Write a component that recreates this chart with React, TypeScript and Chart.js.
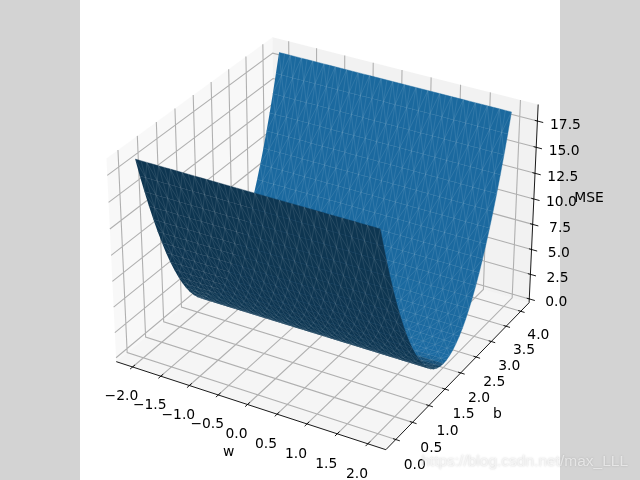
import React, { useEffect, useRef } from "react";
import { Chart, registerables } from "chart.js";

Chart.register(...registerables);

const wValues = [-2, -1.9, -1.8, -1.7, -1.6, -1.5, -1.4, -1.3, -1.2, -1.1, -1, -0.9, -0.8, -0.7, -0.6, -0.5, -0.4, -0.3, -0.2, -0.1, 0, 0.1, 0.2, 0.3, 0.4, 0.5, 0.6, 0.7, 0.8, 0.9, 1, 1.1, 1.2, 1.3, 1.4, 1.5, 1.6, 1.7, 1.8, 1.9, 2];
const bValues = [0, 0.1, 0.2, 0.3, 0.4, 0.5, 0.6, 0.7, 0.8, 0.9, 1, 1.1, 1.2, 1.3, 1.4, 1.5, 1.6, 1.7, 1.8, 1.9, 2, 2.1, 2.2, 2.3, 2.4, 2.5, 2.6, 2.7, 2.8, 2.9, 3, 3.1, 3.2, 3.3, 3.4, 3.5, 3.6, 3.7, 3.8, 3.9, 4];
const mseValues = [18.67, 16.85, 15.12, 13.49, 11.95, 10.5, 9.15, 7.89, 6.72, 5.65, 4.67, 3.78, 2.99, 2.29, 1.68, 1.17, 0.75, 0.42, 0.19, 0.05, 0, 0.05, 0.19, 0.42, 0.75, 1.17, 1.68, 2.29, 2.99, 3.78, 4.67, 5.65, 6.72, 7.89, 9.15, 10.5, 11.95, 13.49, 15.12, 16.85, 18.67];

const wTicks = [-2, -1.5, -1, -0.5, 0, 0.5, 1, 1.5, 2];
const wTickLabels = ["\u22122.0", "\u22121.5", "\u22121.0", "\u22120.5", "0.0", "0.5", "1.0", "1.5", "2.0"];
const bTicks = [0, 0.5, 1, 1.5, 2, 2.5, 3, 3.5, 4];
const bTickLabels = ["0.0", "0.5", "1.0", "1.5", "2.0", "2.5", "3.0", "3.5", "4.0"];
const zTicks = [0, 2.5, 5, 7.5, 10, 12.5, 15, 17.5];
const zTickLabels = ["0.0", "2.5", "5.0", "7.5", "10.0", "12.5", "15.0", "17.5"];

const xLim = [-2.2, 2.2];
const yLim = [-0.2, 4.2];
const zLim = [0, 18.67];
const boxAspect = [1.1428, 1.1428, 0.8571];

// matplotlib-style view: elevation 30, azimuth -60, distance 10
const elev = (30 * Math.PI) / 180;
const azim = (-60 * Math.PI) / 180;
const dist = 10;
const n = [Math.cos(azim) * Math.cos(elev), Math.sin(azim) * Math.cos(elev), Math.sin(elev)];
const uLen = Math.hypot(n[1], n[0]);
const u = [-n[1] / uLen, n[0] / uLen, 0];
const v = [n[1] * u[2] - n[2] * u[1], n[2] * u[0] - n[0] * u[2], n[0] * u[1] - n[1] * u[0]];

function proj(w: number, b: number, z: number) {
  const p = [
    ((w - xLim[0]) / (xLim[1] - xLim[0]) - 0.5) * boxAspect[0],
    ((b - yLim[0]) / (yLim[1] - yLim[0]) - 0.5) * boxAspect[1],
    ((z - zLim[0]) / (zLim[1] - zLim[0]) - 0.5) * boxAspect[2],
  ];
  const dot = (a: number[], c: number[]) => a[0] * c[0] + a[1] * c[1] + a[2] * c[2];
  const depth = dist - dot(n, p);
  return { x: dot(u, p) / depth, y: dot(v, p) / depth };
}

const dx = (xLim[1] - xLim[0]) / 12;
const dy = (yLim[1] - yLim[0]) / 12;
const dz = (zLim[1] - zLim[0]) / 12;
const xLo = xLim[0] - dx / 4, xHi = xLim[1] + dx / 4;
const yLo = yLim[0] - dy / 4, yHi = yLim[1] + dy / 4;
const zLo = zLim[0] - dz / 4, zHi = zLim[1] + dz / 4;

const GAP = { x: NaN, y: NaN };
const lineSet = (data: any[], color: string, width: number) => ({
  data, borderColor: color, borderWidth: width, showLine: true, pointRadius: 0, fill: false, spanGaps: false,
});
const polySet = (data: any[], color: string, edge = "transparent", edgeWidth = 0) => ({
  data, backgroundColor: color, borderWidth: edgeWidth, borderColor: edge, showLine: true, pointRadius: 0, fill: "shape",
});

function buildDatasets() {
  const out: any[] = [];
  // panes
  out.push(polySet([proj(xLo, yLo, zLo), proj(xLo, yHi, zLo), proj(xLo, yHi, zHi), proj(xLo, yLo, zHi)], "rgba(242,242,242,0.5)"));
  out.push(polySet([proj(xLo, yHi, zLo), proj(xHi, yHi, zLo), proj(xHi, yHi, zHi), proj(xLo, yHi, zHi)], "rgba(230,230,230,0.5)"));
  out.push(polySet([proj(xLo, yLo, zLo), proj(xHi, yLo, zLo), proj(xHi, yHi, zLo), proj(xLo, yHi, zLo)], "rgba(236,236,236,0.5)"));
  // grid
  const grid: any[] = [];
  wTicks.forEach((t) => grid.push(proj(t, yLo, zLo), proj(t, yHi, zLo), proj(t, yHi, zHi), GAP));
  bTicks.forEach((t) => grid.push(proj(xHi, t, zLo), proj(xLo, t, zLo), proj(xLo, t, zHi), GAP));
  zTicks.forEach((t) => grid.push(proj(xLo, yLo, t), proj(xLo, yHi, t), proj(xHi, yHi, t), GAP));
  out.push(lineSet(grid, "#b0b0b0", 1.1));
  // axes + ticks
  const axes: any[] = [
    proj(xLo, yLo, zLo), proj(xHi, yLo, zLo), GAP,
    proj(xHi, yLo, zLo), proj(xHi, yHi, zLo), GAP,
    proj(xHi, yHi, zLo), proj(xHi, yHi, zHi), GAP,
  ];
  wTicks.forEach((t) => axes.push(proj(t, yLo + 0.18 * dy, zLo), proj(t, yLo - 0.18 * dy, zLo), GAP));
  bTicks.forEach((t) => axes.push(proj(xHi - 0.12 * dx, t, zLo), proj(xHi + 0.18 * dx, t, zLo), GAP));
  zTicks.forEach((t) => axes.push(proj(xHi - 0.12 * dx, yHi, t), proj(xHi + 0.26 * dx, yHi, t), GAP));
  out.push(lineSet(axes, "#000000", 0.9));

  // surface: far bands first
  const slopes = bValues.slice(1).map((b, i) => (mseValues[i + 1] - mseValues[i]) / (b - bValues[i]));
  const shades = slopes.map((s) => {
    const len = Math.hypot(s, 1);
    return (s + 0.5) / len / 1.5;
  });
  const sMin = Math.min(...shades), sMax = Math.max(...shades);
  for (let i = bValues.length - 2; i >= 0; i--) {
    const f = 0.45 + (0.45 * (shades[i] - sMin)) / (sMax - sMin);
    const col = `rgb(${Math.round(31 * f)},${Math.round(119 * f)},${Math.round(180 * f)})`;
    const b0 = bValues[i], b1 = bValues[i + 1], z0 = mseValues[i], z1 = mseValues[i + 1];
    const poly: any[] = [];
    wValues.forEach((w) => poly.push(proj(w, b0, z0)));
    [...wValues].reverse().forEach((w) => poly.push(proj(w, b1, z1)));
    out.push(polySet(poly, col, col, 0.4));
    const seams: any[] = [];
    if (i > 0) wValues.forEach((w) => seams.push(proj(w, b0, z0)));
    seams.push(GAP);
    wValues.forEach((w, j) => {
      if (j > 0 && j < wValues.length - 1) seams.push(proj(w, b0, z0), proj(w, b1, z1), GAP);
      if (j < wValues.length - 1) {
        const w2 = wValues[j + 1];
        if ((i + j) % 2 === 0) seams.push(proj(w, b0, z0), proj(w2, b1, z1), GAP);
        else seams.push(proj(w2, b0, z0), proj(w, b1, z1), GAP);
      }
    });
    out.push(lineSet(seams, "rgba(255,255,255,0.2)", 0.5));
  }
  return out.reverse();
}

const labelPlugin = {
  id: "labels3d",
  beforeDraw(chart: any) {
    const { ctx, chartArea: a } = chart;
    ctx.save();
    ctx.fillStyle = "#ffffff";
    ctx.fillRect(a.left, a.top, a.right - a.left, a.bottom - a.top);
    ctx.restore();
  },
  afterDatasetsDraw(chart: any) {
    const { ctx, scales } = chart;
    const put = (text: string, p: { x: number; y: number }, nudge = 6) => {
      ctx.fillText(text, scales.x.getPixelForValue(p.x), scales.y.getPixelForValue(p.y) + nudge);
    };
    ctx.save();
    ctx.fillStyle = "#000000";
    ctx.font = '13.89px "DejaVu Sans"';
    ctx.textAlign = "center";
    ctx.textBaseline = "middle";
    const L = 0.85;
    wTicks.forEach((t, i) => put(wTickLabels[i], proj(t, yLo - L * dy, zLo - L * dz)));
    bTicks.forEach((t, i) => put(bTickLabels[i], proj(xHi + L * dx, t, zLo - L * dz)));
    zTicks.forEach((t, i) => put(zTickLabels[i], proj(xHi + L * dx, yHi + L * dy, t), 7.5));
    put("w", proj(0, yLo - 1.45 * dy, zLo - 1.55 * dz), 6);
    put("b", proj(xHi + 1.7 * dx, 2, zLo - 1.55 * dz), 6);
    put("MSE", proj(xHi + 1.7 * dx, yHi + 1.7 * dy, 10.05), 7);
    ctx.restore();
    // watermark
    ctx.save();
    ctx.font = '15.5px "Liberation Sans"';
    ctx.textAlign = "right";
    ctx.textBaseline = "alphabetic";
    ctx.shadowColor = "rgba(90,90,90,0.5)";
    ctx.shadowBlur = 2;
    ctx.fillStyle = "rgba(255,255,255,0.6)";
    ctx.fillText("https://blog.csdn.net/max_LLL", 628, 466);
    ctx.restore();
  },
};

export default function App() {
  const ref = useRef<HTMLCanvasElement>(null);
  useEffect(() => {
    document.body.style.margin = "0";
    const chart = new Chart(ref.current as HTMLCanvasElement, {
      type: "scatter",
      data: { datasets: buildDatasets() },
      options: {
        animation: false,
        responsive: false,
        events: [],
        layout: { padding: { left: 80, right: 80, top: 0, bottom: 0 } },
        elements: { line: { tension: 0 } },
        plugins: { legend: { display: false }, tooltip: { enabled: false } },
        scales: {
          x: { type: "linear", display: false, min: -0.095, max: 0.09 },
          y: { type: "linear", display: false, min: -0.095, max: 0.09 },
        },
      },
      plugins: [labelPlugin],
    } as any);
    return () => chart.destroy();
  }, []);
  return (
    <div style={{ width: 640, height: 480, background: "#d3d3d3" }}>
      <canvas ref={ref} width={640} height={480} style={{ display: "block" }} />
    </div>
  );
}
